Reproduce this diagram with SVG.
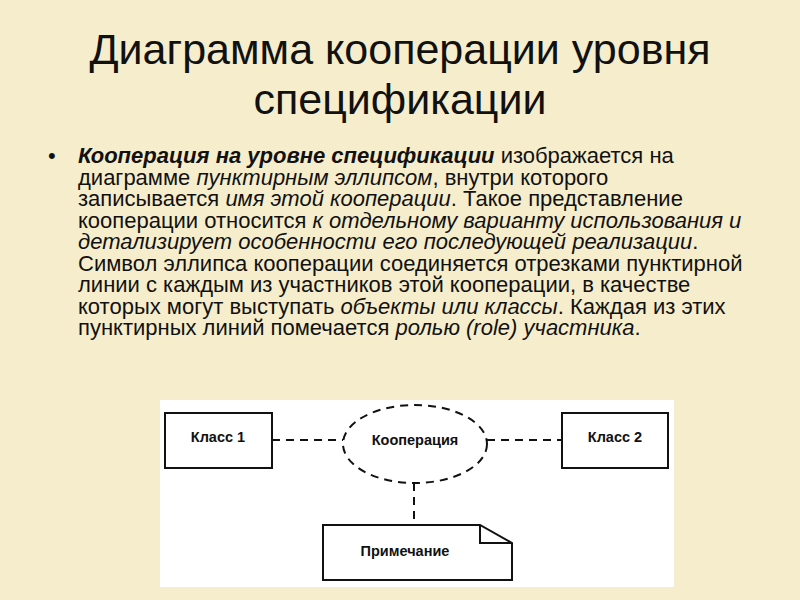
<svg xmlns="http://www.w3.org/2000/svg" width="800" height="600" viewBox="0 0 800 600">
<style>
.t{font-family:"Liberation Sans",Arial,sans-serif;fill:#111}
.b{font-family:"Liberation Sans",Arial,sans-serif;font-size:22px;fill:#111}
.n{font-family:"Liberation Sans",Arial,sans-serif;font-size:14.5px;font-weight:bold;fill:#111}
.box{fill:#fff;stroke:#111;stroke-width:2}
.dash{fill:none;stroke:#111;stroke-width:2;stroke-dasharray:8,6}
</style>
<rect width="800" height="600" fill="#f6edcc"/>
<text class="t" x="400" y="64" font-size="43" text-anchor="middle">Диаграмма кооперации уровня</text>
<text class="t" x="400" y="114" font-size="43" text-anchor="middle">спецификации</text>
<text class="b" x="48" y="163">•</text>
<g class="b">
<text x="78" y="163"><tspan font-weight="bold" font-style="italic">Кооперация на уровне спецификации</tspan> изображается на</text>
<text x="78" y="184.5">диаграмме <tspan font-style="italic">пунктирным эллипсом</tspan>, внутри которого</text>
<text x="78" y="206">записывается <tspan font-style="italic">имя этой кооперации</tspan>. Такое представление</text>
<text x="78" y="227.5">кооперации относится <tspan font-style="italic">к отдельному варианту использования и</tspan></text>
<text x="78" y="249"><tspan font-style="italic">детализирует особенности его последующей реализации</tspan>.</text>
<text x="78" y="270.5">Символ эллипса кооперации соединяется отрезками пунктирной</text>
<text x="78" y="292">линии с каждым из участников этой кооперации, в качестве</text>
<text x="78" y="313.5">которых могут выступать <tspan font-style="italic">объекты или классы</tspan>. Каждая из этих</text>
<text x="78" y="335">пунктирных линий помечается <tspan font-style="italic">ролью (role) участника</tspan>.</text>
</g>
<rect x="160" y="400" width="514" height="187" fill="#fff"/>
<g id="connectors">
<line class="dash" x1="272" y1="440" x2="343" y2="440"/>
<line class="dash" x1="487" y1="440" x2="562" y2="440"/>
<line class="dash" x1="414" y1="483" x2="414" y2="525"/>
</g>
<g id="class1"><rect class="box" x="165" y="413" width="107" height="55"/><text class="n" x="218" y="442" text-anchor="middle">Класс 1</text></g>
<g id="class2"><rect class="box" x="562" y="413" width="106" height="55"/><text class="n" x="615" y="442" text-anchor="middle">Класс 2</text></g>
<g id="coop"><ellipse class="dash" cx="415" cy="444" rx="72" ry="39" fill="#fff"/><text class="n" x="415" y="445" text-anchor="middle">Кооперация</text></g>
<g id="note"><path d="M323,525 H480 L512,543 V580 H323 Z" class="box"/><path d="M480,525 V543 H512" fill="none" stroke="#111" stroke-width="2"/><text class="n" x="405" y="556" text-anchor="middle">Примечание</text></g>
</svg>
